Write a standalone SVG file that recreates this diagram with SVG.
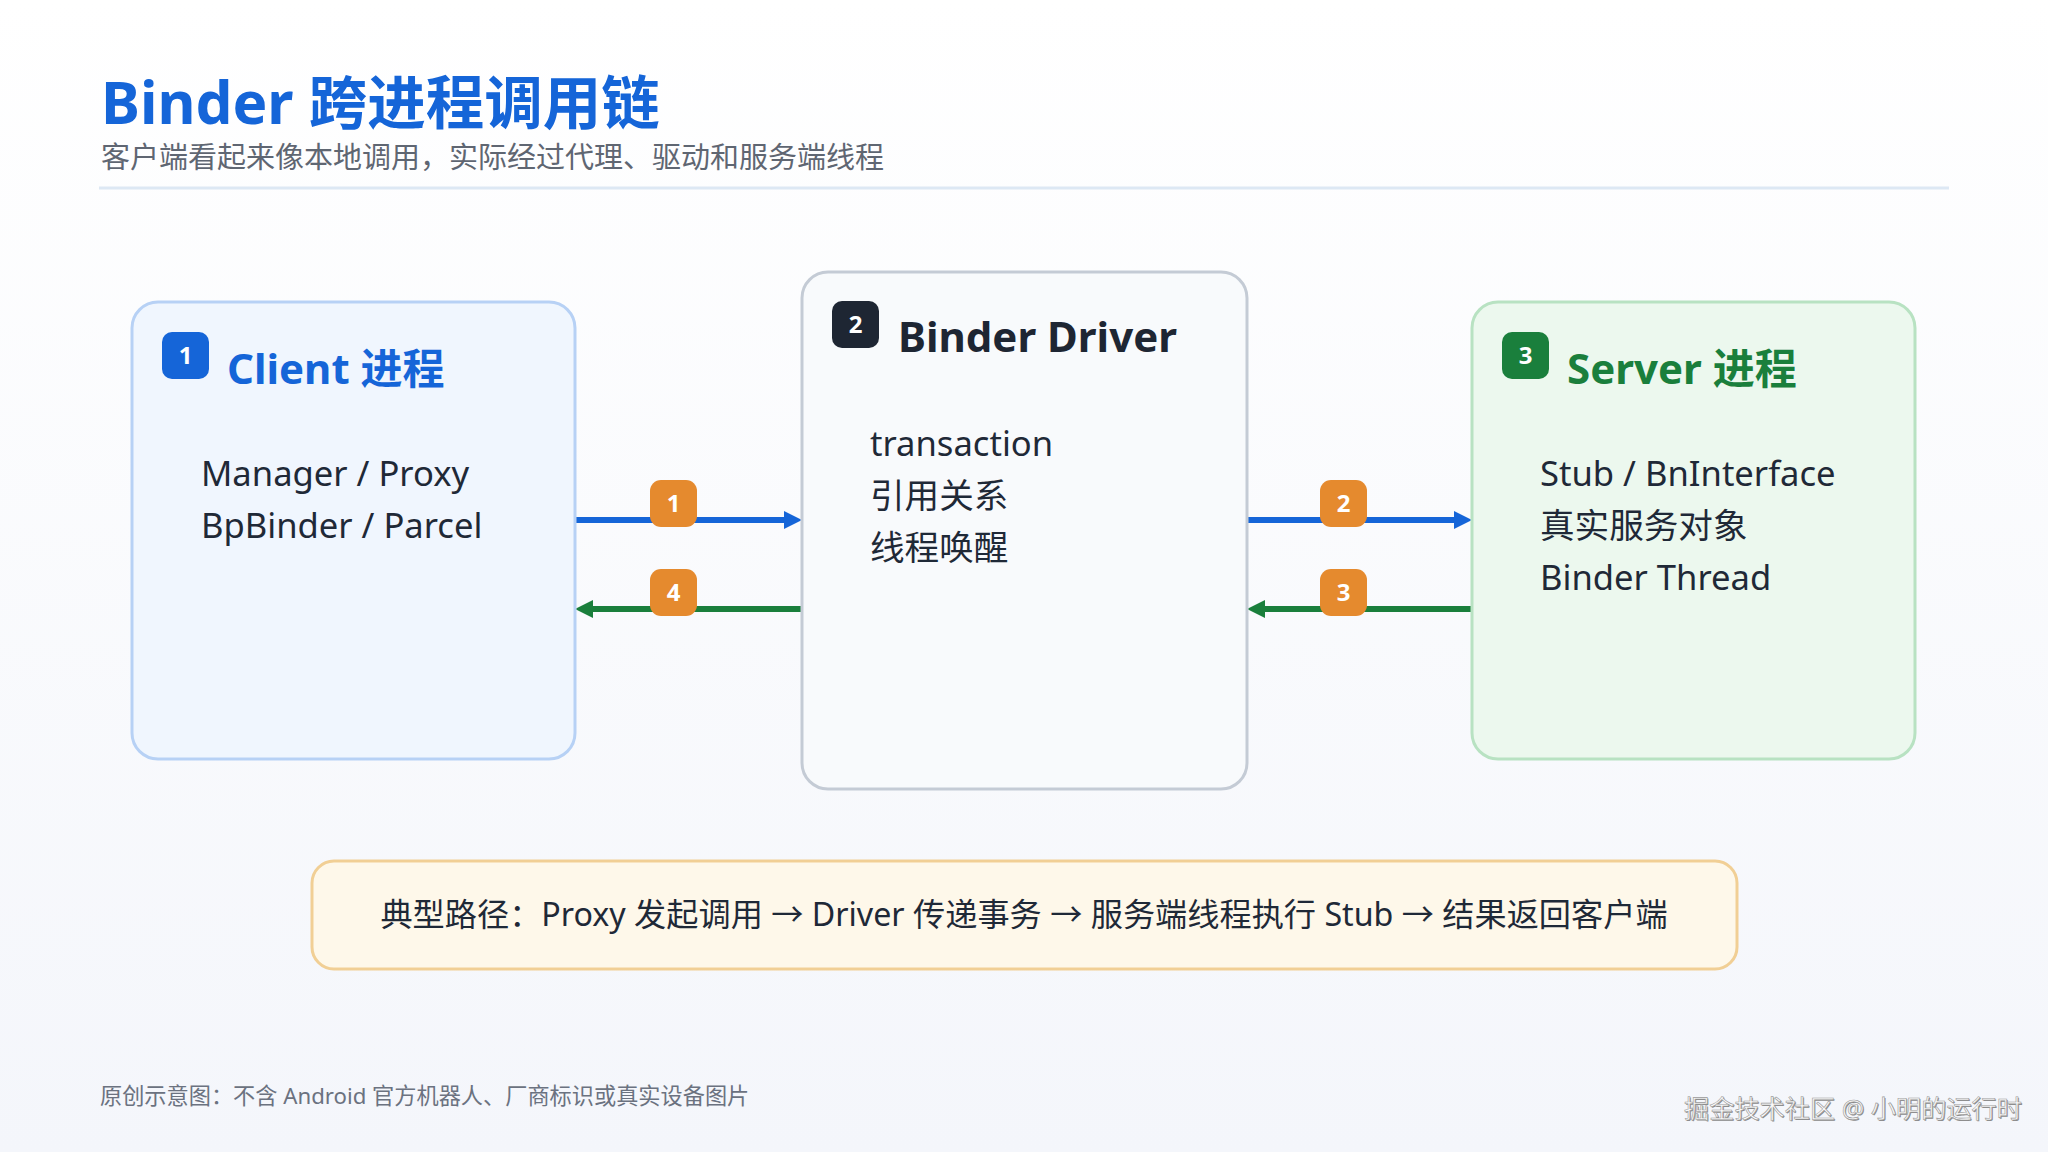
<svg xmlns="http://www.w3.org/2000/svg" width="2048" height="1152" viewBox="0 0 2048 1152">
  <defs>
    <linearGradient id="bg" x1="0" y1="0" x2="0" y2="1">
      <stop offset="0" stop-color="#ffffff"/>
      <stop offset="1" stop-color="#f4f6fb"/>
    </linearGradient>
    <marker id="ahBlue" markerUnits="userSpaceOnUse" viewBox="0 0 18 18" markerWidth="18" markerHeight="18" refX="6" refY="9" orient="auto">
      <path d="M0,0 L18,9 L0,18 z" fill="#1565d8"/>
    </marker>
    <marker id="ahGreen" markerUnits="userSpaceOnUse" viewBox="0 0 18 18" markerWidth="18" markerHeight="18" refX="6" refY="9" orient="auto">
      <path d="M0,0 L18,9 L0,18 z" fill="#1a7f3c"/>
    </marker>
    <style>
      .sans { font-family: "Noto Sans", "Noto Sans CJK SC", sans-serif; }
      .title { font-size: 58.5px; font-weight: 700; fill: #1565d8; }
      .subtitle { font-size: 29px; fill: #5f6672; }
      .ntitle { font-size: 42px; font-weight: 700; }
      .body { font-size: 34.6px; fill: #1f2937; }
      .badge-t { font-size: 24px; font-weight: 700; fill: #ffffff; text-anchor: middle; }
      .step { fill: #e58a2e; }
      .blue { stroke: #1565d8; stroke-width: 6; fill: none; }
      .green { stroke: #1a7f3c; stroke-width: 6; fill: none; }
      .note { font-size: 32.2px; fill: #1f2937; text-anchor: middle; }
      .foot { font-size: 22.2px; fill: #6b7280; }
      .wm { font-size: 25.2px; }
    </style>
  </defs>

  <rect width="2048" height="1152" fill="url(#bg)"/>

  <g id="header">
    <text class="sans title" x="101" y="124">Binder 跨进程调用链</text>
    <text class="sans subtitle" x="101" y="168">客户端看起来像本地调用，实际经过代理、驱动和服务端线程</text>
    <line x1="99" y1="188" x2="1949" y2="188" stroke="#dde8f4" stroke-width="3"/>
  </g>

  <g id="connectors">
    <line class="blue" x1="575" y1="520" x2="790" y2="520" marker-end="url(#ahBlue)"/>
    <line class="green" x1="802" y1="609" x2="587" y2="609" marker-end="url(#ahGreen)"/>
    <line class="blue" x1="1247" y1="520" x2="1460" y2="520" marker-end="url(#ahBlue)"/>
    <line class="green" x1="1472" y1="609" x2="1259" y2="609" marker-end="url(#ahGreen)"/>
    <g id="step1"><rect class="step" x="650" y="480" width="47" height="47" rx="11"/><text class="sans badge-t" x="673.5" y="512">1</text></g>
    <g id="step4"><rect class="step" x="650" y="569" width="47" height="47" rx="11"/><text class="sans badge-t" x="673.5" y="601">4</text></g>
    <g id="step2"><rect class="step" x="1320" y="480" width="47" height="47" rx="11"/><text class="sans badge-t" x="1343.5" y="512">2</text></g>
    <g id="step3"><rect class="step" x="1320" y="569" width="47" height="47" rx="11"/><text class="sans badge-t" x="1343.5" y="601">3</text></g>
  </g>

  <g id="client">
    <rect x="132" y="302" width="443" height="457" rx="26" fill="#f0f6fe" stroke="#b7d1f5" stroke-width="3"/>
    <rect x="162" y="332" width="47" height="47" rx="10" fill="#1565d8"/>
    <text class="sans badge-t" x="185.5" y="364">1</text>
    <text class="sans ntitle" x="227" y="384" fill="#1565d8">Client 进程</text>
    <text class="sans body" x="201" y="486">Manager / Proxy</text>
    <text class="sans body" x="201" y="538">BpBinder / Parcel</text>
  </g>

  <g id="driver">
    <rect x="802" y="272" width="445" height="517" rx="26" fill="#f8fafc" stroke="#c4cbd5" stroke-width="3"/>
    <rect x="832" y="301" width="47" height="47" rx="10" fill="#1e2633"/>
    <text class="sans badge-t" x="855.5" y="333">2</text>
    <text class="sans ntitle" x="898" y="352" fill="#1e2633">Binder Driver</text>
    <text class="sans body" x="870" y="456">transaction</text>
    <text class="sans body" x="870" y="508">引用关系</text>
    <text class="sans body" x="870" y="560">线程唤醒</text>
  </g>

  <g id="server">
    <rect x="1472" y="302" width="443" height="457" rx="26" fill="#ecf8ee" stroke="#b8e2c2" stroke-width="3"/>
    <rect x="1502" y="332" width="47" height="47" rx="10" fill="#1a7f3c"/>
    <text class="sans badge-t" x="1525.5" y="364">3</text>
    <text class="sans ntitle" x="1567" y="384" fill="#1a7f3c">Server 进程</text>
    <text class="sans body" x="1540" y="486">Stub / BnInterface</text>
    <text class="sans body" x="1540" y="538">真实服务对象</text>
    <text class="sans body" x="1540" y="590">Binder Thread</text>
  </g>

  <g id="summary">
    <rect x="312" y="861" width="1425" height="108" rx="22" fill="#fef8ea" stroke="#f1cf95" stroke-width="3"/>
    <text class="sans note" x="1024" y="926">典型路径：Proxy 发起调用 → Driver 传递事务 → 服务端线程执行 Stub → 结果返回客户端</text>
  </g>

  <g id="footer">
    <text class="sans foot" x="100" y="1104">原创示意图：不含 Android 官方机器人、厂商标识或真实设备图片</text>
    <text class="sans wm" x="1685" y="1119" fill="#8a8a8a">掘金技术社区 @ 小明的运行时</text>
    <text class="sans wm" x="1684" y="1118" fill="#fafafa" stroke="#9a9a9a" stroke-width="0.6">掘金技术社区 @ 小明的运行时</text>
  </g>
</svg>
